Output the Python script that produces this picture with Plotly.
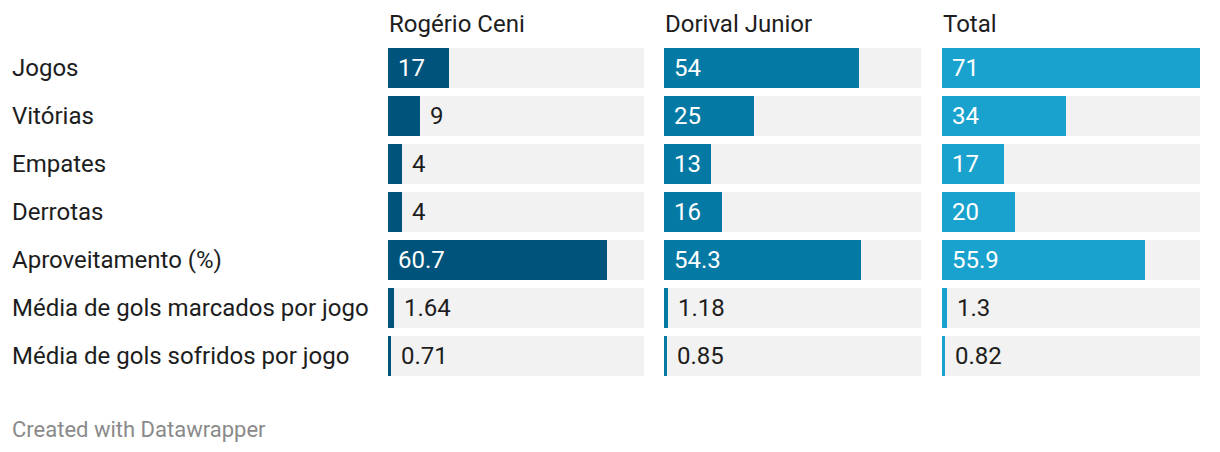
import plotly.graph_objects as go

W, H = 1220, 452
OFF = 8  # page body margin

categorias = ["Jogos", "Vitórias", "Empates", "Derrotas", "Aproveitamento (%)",
              "Média de gols marcados por jogo", "Média de gols sofridos por jogo"]
colunas = ["Rogério Ceni", "Dorival Junior", "Total"]
rogerio = [17, 9, 4, 4, 60.7, 1.64, 0.71]
dorival = [54, 25, 13, 16, 54.3, 1.18, 0.85]
total = [71, 34, 17, 20, 55.9, 1.3, 0.82]
rotulos = [
    ["17", "9", "4", "4", "60.7", "1.64", "0.71"],
    ["54", "25", "13", "16", "54.3", "1.18", "0.85"],
    ["71", "34", "17", "20", "55.9", "1.3", "0.82"],
]
cores = ["#00537a", "#0379a3", "#1aa2ce"]
xmax = 71

FONT = "Roboto"
TXT = "#1d1d1d"
FS = 24


def px(v):
    return (v - OFF) / W


def py(v):
    return 1 - (v - OFF) / H


# pixel positions of each panel (in the screenshot)
paineis = [(388, 644), (664, 921), (942, 1200)]

fig = go.Figure()
annotations = []
ypos = list(range(len(categorias)))

for i, (vals, nome) in enumerate(zip([rogerio, dorival, total], colunas)):
    xa = "x" if i == 0 else f"x{i+1}"
    fig.add_trace(go.Bar(y=ypos, x=[xmax] * len(ypos), orientation="h", xaxis=xa, yaxis="y",
                         marker=dict(color="#f2f2f2", line=dict(width=0)), width=40 / 48,
                         hoverinfo="skip", showlegend=False))
    fig.add_trace(go.Bar(y=ypos, x=vals, orientation="h", xaxis=xa, yaxis="y",
                         marker=dict(color=cores[i], line=dict(width=0)), width=40 / 48,
                         name=nome, showlegend=False))
    annotations.append(dict(text=nome, xref=f"{xa} domain", x=0, xanchor="left", xshift=-1,
                            yref="paper", y=py(24), yanchor="middle", showarrow=False,
                            font=dict(family=FONT, size=FS, color=TXT)))
    for j, v in enumerate(vals):
        dentro = v >= 10
        annotations.append(dict(text=rotulos[i][j], xref=xa, yref="y",
                                x=0 if dentro else v, y=j, xanchor="left", xshift=8,
                                showarrow=False,
                                font=dict(family=FONT, size=FS, color="white" if dentro else TXT)))

for j, c in enumerate(categorias):
    annotations.append(dict(text=c, xref="paper", x=px(12), xanchor="left", xshift=-2,
                            yref="y", y=j, showarrow=False,
                            font=dict(family=FONT, size=FS, color=TXT)))

annotations.append(dict(text="Created with Datawrapper", xref="paper", x=px(10), xanchor="left",
                        yref="paper", y=py(429), yanchor="middle", showarrow=False,
                        font=dict(family=FONT, size=22, color="#8a8a8a")))

layout = dict(
    width=W, height=H, margin=dict(l=0, r=0, t=0, b=0),
    paper_bgcolor="white", plot_bgcolor="white", barmode="overlay", bargap=0,
    annotations=annotations,
    yaxis=dict(range=[6.5, -0.5], domain=[py(380), py(44)], visible=False,
               fixedrange=True),
)
for i, (a, b) in enumerate(paineis):
    key = "xaxis" if i == 0 else f"xaxis{i+1}"
    layout[key] = dict(range=[0, xmax], domain=[px(a), px(b)], visible=False,
                       anchor="y", fixedrange=True)

fig.update_layout(**layout)
fig.write_html("out.html")
